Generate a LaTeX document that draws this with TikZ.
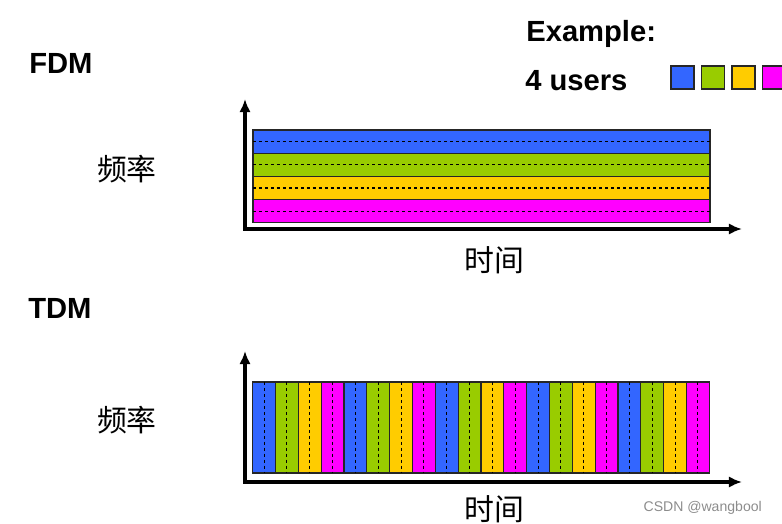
\documentclass[tikz,border=0pt]{standalone}
\usepackage{fontspec}
\setmainfont{Liberation Sans}
\newfontfamily\cjk{Noto Sans CJK SC}
\usetikzlibrary{arrows.meta}
\definecolor{userblue}{HTML}{3366FF}
\definecolor{usergreen}{HTML}{99CC00}
\definecolor{useryellow}{HTML}{FFCC00}
\definecolor{usermagenta}{HTML}{FF00FF}
\begin{document}
\begin{tikzpicture}[x=0.02cm, y=-0.02cm, >={Latex[length=7.5pt, width=6.5pt]},
    axis/.style={line width=1.9pt, black},
    band/.style={draw=black!85, line width=0.6pt},
    split/.style={black, line width=0.6pt, dash pattern=on 1.7pt off 1.7pt},
    title/.style={font=\bfseries\fontsize{16.6}{18}\selectfont, anchor=base west, inner sep=0pt},
    zh/.style={font=\cjk\fontsize{17}{19}\selectfont}]
    \useasboundingbox (0,0) rectangle (782,524);

    % 1. Tiêu đề và chú thích
    \node[title] (fdm) at (29,73.5) {FDM};
    \node[title] (tdm) at (28,318) {TDM};
    \node[title] (example) at (526,41) {Example:};
    \node[title] (users) at (525,91) {4 users};
    \foreach \c [count=\i from 0] in {userblue, usergreen, useryellow, usermagenta} {
        \draw[band, line width=1pt, fill=\c] ({671+30.5*\i},66) rectangle ++(23,23);
    }

    % 2. Biểu đồ FDM (chia theo tần số)
    \coordinate (O1) at (245,229);
    \coordinate (Y1) at (245,99);
    \coordinate (X1) at (742,229);
    \foreach \c [count=\i from 0] in {userblue, usergreen, useryellow, usermagenta} {
        \draw[band, fill=\c] (253,{130+23.2*\i}) rectangle (710,{153.2+23.2*\i});
        \draw[split] (253,{141.6+23.2*\i}) -- (710,{141.6+23.2*\i});
    }
    \draw[axis, <->] (Y1) -- (O1) -- (X1);
    \node[zh] (freq1) at (127,169) {频率};
    \node[zh] (time1) at (494,260.5) {时间};

    % 3. Biểu đồ TDM (chia theo thời gian)
    \coordinate (O2) at (245,482);
    \coordinate (Y2) at (245,351);
    \coordinate (X2) at (742,482);
    \foreach \r in {0,...,4} {
        \foreach \c [count=\i from 0] in {userblue, usergreen, useryellow, usermagenta} {
            \pgfmathsetmacro\xa{252.7+22.83*(4*\r+\i)}
            \draw[band, fill=\c] (\xa,382) rectangle ({\xa+22.83},473);
            \draw[split] ({\xa+11.4},382) -- ({\xa+11.4},473);
        }
    }
    \draw[axis, <->] (Y2) -- (O2) -- (X2);
    \node[zh] (freq2) at (127,420) {频率};
    \node[zh] (time2) at (494,509) {时间};

    % 4. Chữ mờ góc dưới
    \node[anchor=east, text=black!45, font=\fontsize{8}{9}\selectfont] (mark) at (768,508) {CSDN @wangbool};
\end{tikzpicture}
\end{document}
